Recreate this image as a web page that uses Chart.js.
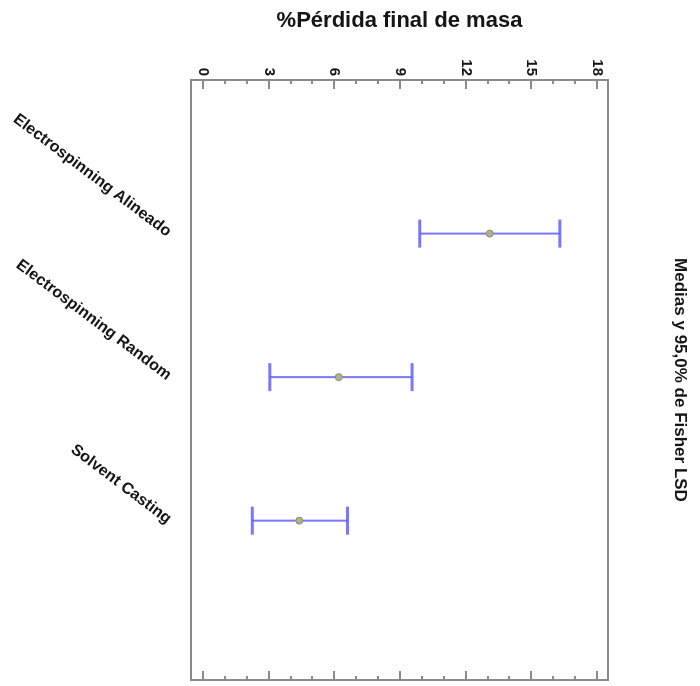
<!DOCTYPE html>
<html>
<head>
  <title>Medias y 95,0% de Fisher LSD</title>
  <script src="https://cdn.jsdelivr.net/npm/chart.js"></script>
  <style>
    body { margin: 0; background: #fff; }
    /* la grafica original es vertical; se gira 90 grados como en la imagen */
    #wrap {
      position: absolute; left: 0; top: 0;
      width: 686px; height: 700px;
      transform-origin: 0 0;
      transform: translate(700px, 0) rotate(90deg);
    }
  </style>
</head>
<body>
  <div id="wrap"><canvas id="lsd-chart" width="686" height="700"></canvas></div>

  <script>
    // Datos: medias e intervalos LSD de Fisher al 95%
    var categories = ['Electrospinning Alineado', 'Electrospinning Random', 'Solvent Casting'];
    var means = [13.1, 6.2, 4.4];
    var lower = [9.9, 3.05, 2.25];
    var upper = [16.3, 9.55, 6.6];
    var valueTicks = [0, 3, 6, 9, 12, 15, 18];

    var blue = 'rgba(95, 95, 255, 0.85)';
    var textColor = '#151515';
    Chart.defaults.font.family = "'Liberation Sans', Arial, sans-serif";

    var datasets = [{
      label: 'Media',
      data: means.map(function (m, i) { return { x: i + 1, y: m }; }),
      pointRadius: 3.5,
      pointBackgroundColor: '#b4b482',
      pointBorderColor: '#8c8c74',
      pointBorderWidth: 1
    }];

    categories.forEach(function (cat, i) {
      datasets.push({
        label: cat,
        showLine: true,
        data: [{ x: i + 1, y: lower[i] }, { x: i + 1, y: upper[i] }],
        borderColor: blue,
        borderWidth: 2,
        pointStyle: 'line',
        pointRadius: 14,
        pointBorderWidth: 3,
        pointBorderColor: blue
      });
    });

    // marco del area y marcas hacia dentro (mayores cada 3, menores cada 1)
    var framePlugin = {
      id: 'frame',
      afterDraw: function (chart) {
        var a = chart.chartArea;
        var y = chart.scales.y;
        var ctx = chart.ctx;
        ctx.save();
        ctx.strokeStyle = '#8a8a8a';
        ctx.lineWidth = 2;
        ctx.strokeRect(a.left, a.top, a.right - a.left, a.bottom - a.top);
        ctx.beginPath();
        for (var v = valueTicks[0]; v <= valueTicks[valueTicks.length - 1]; v++) {
          var py = Math.round(y.getPixelForValue(v));
          var len = valueTicks.indexOf(v) !== -1 ? 9 : 4;
          ctx.moveTo(a.left, py);
          ctx.lineTo(a.left + len, py);
          ctx.moveTo(a.right, py);
          ctx.lineTo(a.right - len, py);
        }
        ctx.stroke();
        ctx.restore();
      }
    };

    var config = {
      type: 'scatter',
      data: { datasets: datasets },
      options: {
        responsive: false,
        animation: false,
        events: [],
        layout: {
          autoPadding: false,
          padding: { left: 0, right: 6, top: 0, bottom: 0 }
        },
        plugins: {
          legend: { display: false },
          tooltip: { enabled: false }
        },
        scales: {
          x: {
            type: 'linear',
            position: 'bottom',
            min: -0.07,
            max: 4.11,
            afterBuildTicks: function (s) {
              s.ticks = categories.map(function (c, i) { return { value: i + 1 }; });
            },
            afterFit: function (s) {
              s.height = 191;
              s.paddingLeft = 0;
              s.paddingRight = 0;
            },
            ticks: {
              autoSkip: false,
              minRotation: 53,
              maxRotation: 53,
              padding: 16,
              color: textColor,
              font: { size: 16, weight: 'bold' },
              callback: function (v) { return categories[v - 1]; }
            },
            grid: { display: false, drawTicks: false },
            border: { display: false }
          },
          x2: {
            type: 'linear',
            position: 'top',
            ticks: { display: false },
            grid: { display: false, drawTicks: false },
            border: { display: false },
            afterFit: function (s) {
              s.height = 92;
              s.paddingLeft = 0;
              s.paddingRight = 0;
            },
            title: {
              display: true,
              text: 'Medias y 95,0% de Fisher LSD',
              color: textColor,
              font: { size: 17, weight: 'bold' },
              padding: { top: 10, bottom: 0 }
            }
          },
          y: {
            min: -0.55,
            max: 18.5,
            afterBuildTicks: function (s) {
              s.ticks = valueTicks.map(function (v) { return { value: v }; });
            },
            afterFit: function (s) { s.width = 80; },
            ticks: {
              padding: 4,
              color: textColor,
              font: { size: 15, weight: 'bold' }
            },
            grid: { display: false, drawTicks: false },
            border: { display: false },
            title: {
              display: true,
              text: '%Pérdida final de masa',
              color: textColor,
              font: { size: 22, weight: 'bold' },
              padding: { top: 8, bottom: 0 }
            }
          }
        }
      },
      plugins: [framePlugin]
    };

    var ctx = document.getElementById('lsd-chart').getContext('2d');
    var chart = new Chart(ctx, config);
  </script>
</body>
</html>
